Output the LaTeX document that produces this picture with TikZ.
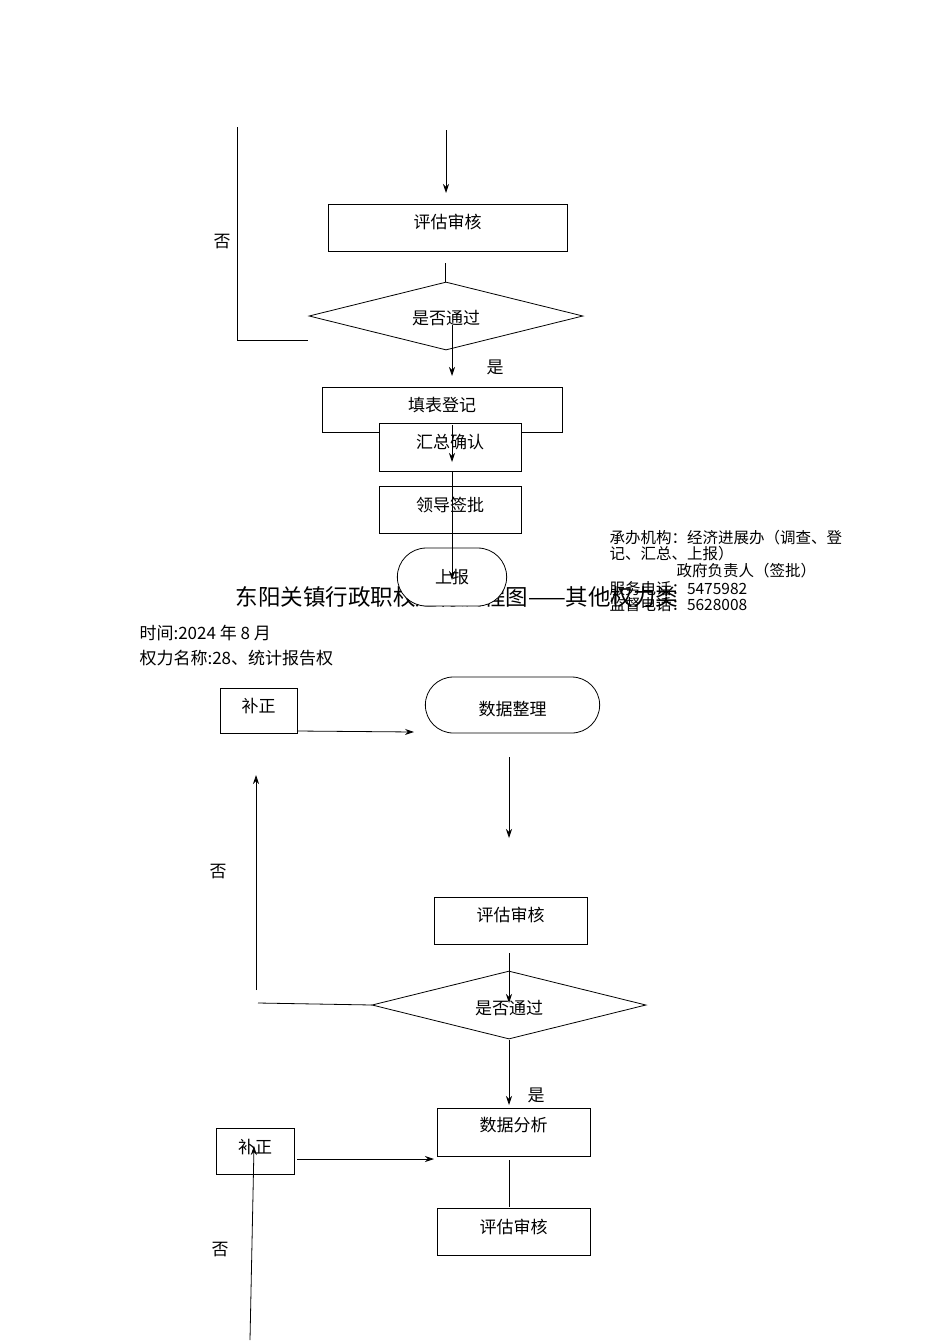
\documentclass[tikz,border=0pt]{standalone}
\usepackage{fontspec}
\setmainfont{Noto Sans CJK SC}
\usetikzlibrary{shapes.geometric,shapes.misc,arrows.meta}
\begin{document}
\begin{tikzpicture}[x=1pt,y=-1pt,
  every node/.style={font=\fontsize{17}{19}\selectfont},
  box/.style={draw,thick,fill=white,inner sep=0},
  dia/.style={draw,thick,diamond,fill=white,inner sep=0},
  arr/.style={thick,-{Stealth[length=9pt,width=6pt]}},
  ln/.style={thick}]
\useasboundingbox (0,0) rectangle (950,1344);
% top part
\coordinate (l1) at (237,127); \coordinate (l2) at (237,340); \coordinate (l3) at (308,340);
\draw[ln] (l1) -- (l2) -- (l3);
\node at (222,242) {否};
\coordinate (a0) at (446,130); \coordinate (a1) at (446,193);
\draw[arr] (a0) -- (a1);
\node[box,minimum width=239,minimum height=47] (pg1) at (447.5,227.5) {};
\node at (447.5,222) {评估审核};
\coordinate (b0) at (445,263); \coordinate (b1) at (445,282);
\draw[ln] (b0) -- (b1);
\node[dia,minimum width=274,minimum height=68,aspect=4] (d1) at (446,316) {};
\node at (446,318) {是否通过};
\coordinate (c0) at (452,325); \coordinate (c1) at (452,376);
\draw[arr] (c0) -- (c1);
\node at (495,367) {是};
\node[box,minimum width=240,minimum height=45] (tb) at (442,409.5) {};
\node at (442,405) {填表登记};
\node[box,minimum width=142,minimum height=48] (hz) at (450,447) {};
\node at (450,442) {汇总确认};
\coordinate (e0) at (452,425); \coordinate (e1) at (452,462);
\draw[arr] (e0) -- (e1);
\node[box,minimum width=142,minimum height=47] (ld) at (450,509.5) {};
\node at (450,505) {领导签批};
% title
\node[anchor=west,font=\fontsize{22.5}{24}\selectfont] (title) at (232,597) {东阳关镇行政职权运行流程图——其他权力类};
\node[draw,thick,fill=white,rounded rectangle,minimum width=116,minimum height=58] (sb) at (452,577) {};
\node at (452,577) {上报};
\coordinate (f0) at (452,471); \coordinate (f1) at (452,580);
\draw[arr] (f0) -- (f1);
\begin{scope}[every node/.style={anchor=west,font=\fontsize{15.5}{17}\selectfont}]
\node at (606,538) {承办机构：经济进展办（调查、登};
\node at (606,554) {记、汇总、上报）};
\node at (673,571) {政府负责人（签批）};
\node at (606,589) {服务电话：5475982};
\node at (606,605) {监督电话：5628008};
\end{scope}
\node[anchor=west] at (136,633) {时间:2024 年 8 月};
\node[anchor=west] at (136,658) {权力名称:28、统计报告权};
% lower part
\node[box,minimum width=77,minimum height=45] (bz1) at (258.5,710.5) {};
\node at (258.5,706) {补正};
\node[draw,thick,rounded rectangle,minimum width=181,minimum height=56] (sj) at (512.5,705) {};
\node at (512.5,709) {数据整理};
\coordinate (g0) at (297,731); \coordinate (g1) at (414,732);
\draw[arr] (g0) -- (g1);
\coordinate (h0) at (509,757); \coordinate (h1) at (509,838);
\draw[arr] (h0) -- (h1);
\node[box,minimum width=153,minimum height=47] (pg2) at (510.5,920.5) {};
\node at (510.5,915) {评估审核};
\node[dia,minimum width=274,minimum height=68,aspect=4] (d2) at (509,1005) {};
\node at (509,1008) {是否通过};
\coordinate (i0) at (509,953); \coordinate (i1) at (509,1003);
\draw[arr] (i0) -- (i1);
\coordinate (j0) at (258,1003); \coordinate (j1) at (372,1005);
\draw[ln] (j0) -- (j1);
\coordinate (k0) at (256,990); \coordinate (k1) at (256,775);
\draw[arr] (k0) -- (k1);
\node at (218,872) {否};
\coordinate (m0) at (509,1040); \coordinate (m1) at (509,1105);
\draw[arr] (m0) -- (m1);
\node at (536,1095) {是};
\node[box,minimum width=153,minimum height=48] (fx) at (513.5,1132) {};
\node at (513.5,1125) {数据分析};
\coordinate (n0) at (509,1160); \coordinate (n1) at (509,1207);
\draw[ln] (n0) -- (n1);
\node[box,minimum width=153,minimum height=47] (pg3) at (513.5,1231.5) {};
\node at (513.5,1227) {评估审核};
\node[box,minimum width=78,minimum height=46] (bz2) at (255,1151) {};
\node at (255,1147) {补正};
\coordinate (o0) at (297,1159); \coordinate (o1) at (434,1159);
\draw[arr] (o0) -- (o1);
\coordinate (p0) at (250,1340); \coordinate (p1) at (254,1146);
\draw[arr] (p0) -- (p1);
\node at (220,1250) {否};
\end{tikzpicture}
\end{document}
